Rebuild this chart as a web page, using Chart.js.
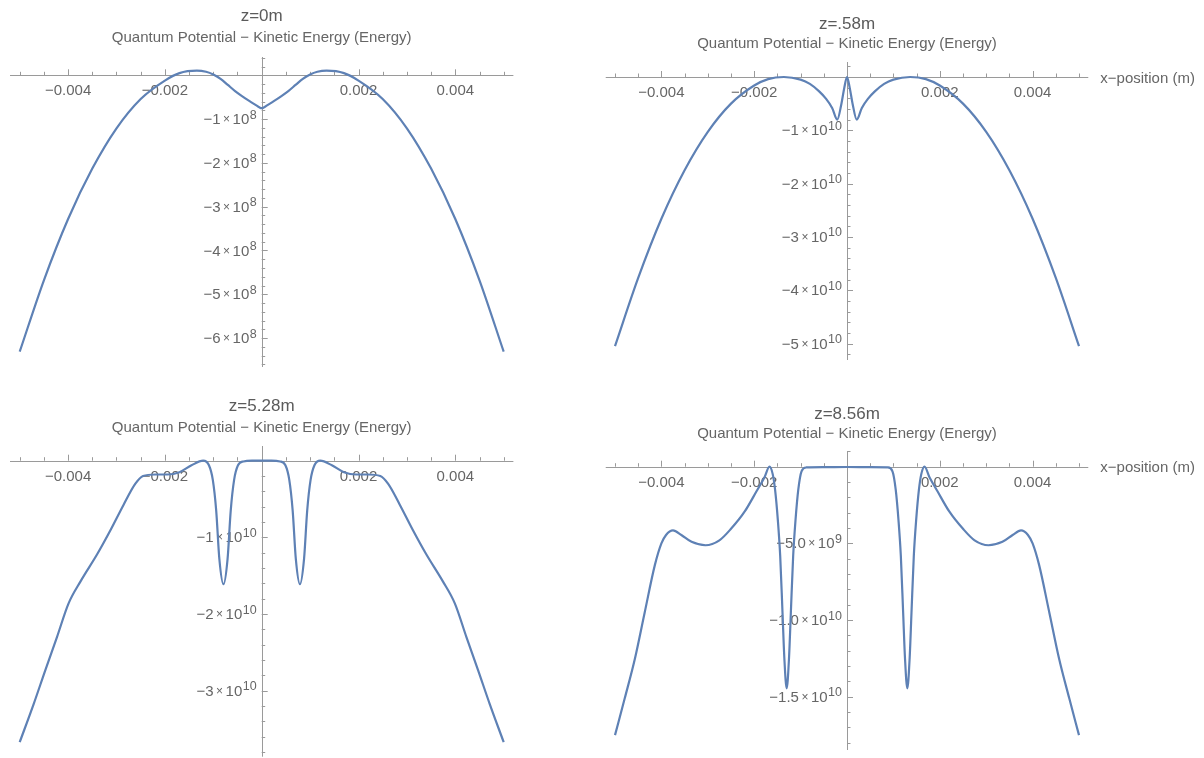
<!DOCTYPE html>
<html>
<head>
<meta charset="utf-8">
<title>Quantum Potential − Kinetic Energy</title>
<script src="https://cdn.jsdelivr.net/npm/chart.js@4.4.1/dist/chart.umd.min.js"></script>
<style>
  html, body { margin: 0; padding: 0; background: #fff; }
  body { position: relative; width: 1204px; height: 758px; overflow: hidden; }
  canvas { position: absolute; }
</style>
</head>
<body>
<canvas id="plot0"></canvas>
<canvas id="plot1"></canvas>
<canvas id="plot2"></canvas>
<canvas id="plot3"></canvas>
<script>
// Q - KE across the beam at four distances z (x in metres)
const z0X = [-0.005, -0.0045, -0.004, -0.0035, -0.003, -0.0025, -0.002, -0.0017, -0.00134, -0.00115, -0.001, -0.00085, -0.0007, -0.00055, -0.0004, -0.00025, -0.00012, -0.00005, 0,
  0.00005, 0.00012, 0.00025, 0.0004, 0.00055, 0.0007, 0.00085, 0.001, 0.00115, 0.00134, 0.0017, 0.002, 0.0025, 0.003, 0.0035, 0.004, 0.0045, 0.005];
const z0E = [-6.31e8, -4.68e8, -3.28e8, -2.13e8, -1.21e8, -0.54e8, -0.12e8, 0.05e8, 0.105e8, 0.08e8, 0.02e8, -0.08e8, -0.22e8, -0.36e8, -0.48e8, -0.59e8, -0.68e8, -0.73e8, -0.75e8,
  -0.73e8, -0.68e8, -0.59e8, -0.48e8, -0.36e8, -0.22e8, -0.08e8, 0.02e8, 0.08e8, 0.105e8, 0.05e8, -0.12e8, -0.54e8, -1.21e8, -2.13e8, -3.28e8, -4.68e8, -6.31e8];

const z058X = [-0.005, -0.0045, -0.004, -0.0035, -0.003, -0.0025, -0.002, -0.0017, -0.00136, -0.001, -0.0008, -0.0006, -0.00045, -0.00032, -0.00021, -0.00012, -0.00006, 0,
  0.00006, 0.00012, 0.00021, 0.00032, 0.00045, 0.0006, 0.0008, 0.001, 0.00136, 0.0017, 0.002, 0.0025, 0.003, 0.0035, 0.004, 0.0045, 0.005];
const z058E = [-5.05e10, -3.77e10, -2.66e10, -1.75e10, -1.03e10, -0.50e10, -0.16e10, -0.04e10, 0, -0.05e10, -0.13e10, -0.27e10, -0.41e10, -0.58e10, -0.80e10, -0.50e10, -0.21e10, 0,
  -0.21e10, -0.50e10, -0.80e10, -0.58e10, -0.41e10, -0.27e10, -0.13e10, -0.05e10, 0, -0.04e10, -0.16e10, -0.50e10, -1.03e10, -1.75e10, -2.66e10, -3.77e10, -5.05e10];

const z528X = [-0.005, -0.00471, -0.00447, -0.00423, -0.00399, -0.00374, -0.0034, -0.00312, -0.00285, -0.00261, -0.00245, -0.0022, -0.00195, -0.0017, -0.00145,
  -0.00121, -0.00109, -0.00101, -0.00094, -0.000875, -0.00079, -0.000705, -0.00064, -0.00057, -0.00049, -0.00038, -0.0002, 0,
  0.0002, 0.00038, 0.00049, 0.00057, 0.00064, 0.000705, 0.00079, 0.000875, 0.00094, 0.00101, 0.00109, 0.00121,
  0.00145, 0.0017, 0.00195, 0.0022, 0.00245, 0.00261, 0.00285, 0.00312, 0.0034, 0.00374, 0.00399, 0.00423, 0.00447, 0.00471, 0.005];
const z528E = [-3.67e10, -3.17e10, -2.73e10, -2.30e10, -1.86e10, -1.57e10, -1.22e10, -0.90e10, -0.57e10, -0.30e10, -0.20e10, -0.18e10, -0.18e10, -0.15e10, -0.06e10,
  0, -0.06e10, -0.25e10, -0.65e10, -1.28e10, -1.61e10, -1.28e10, -0.65e10, -0.25e10, -0.06e10, -0.01e10, 0, 0,
  0, -0.01e10, -0.06e10, -0.25e10, -0.65e10, -1.28e10, -1.61e10, -1.28e10, -0.65e10, -0.25e10, -0.06e10, 0,
  -0.06e10, -0.15e10, -0.18e10, -0.18e10, -0.20e10, -0.30e10, -0.57e10, -0.90e10, -1.22e10, -1.57e10, -1.86e10, -2.30e10, -2.73e10, -3.17e10, -3.67e10];

const z856X = [-0.005, -0.00479, -0.00457, -0.00436, -0.00414, -0.004, -0.0039, -0.00375, -0.00357, -0.00335, -0.00305, -0.00275, -0.0025, -0.0022, -0.00195, -0.00178,
  -0.00167, -0.0016, -0.00155, -0.00149, -0.00144, -0.00139, -0.00135, -0.0013, -0.00125, -0.00121, -0.00116, -0.00111, -0.00105, -0.00098, -0.00088, -0.0005, 0,
  0.0005, 0.00088, 0.00098, 0.00105, 0.00111, 0.00116, 0.00121, 0.00125, 0.0013, 0.00135, 0.00139, 0.00144, 0.00149, 0.00155, 0.0016, 0.00167,
  0.00178, 0.00195, 0.0022, 0.0025, 0.00275, 0.00305, 0.00335, 0.00357, 0.00375, 0.0039, 0.004, 0.00414, 0.00436, 0.00457, 0.00479, 0.005];
const z856E = [-17.5e9, -15.1e9, -12.5e9, -9.5e9, -6.4e9, -5.0e9, -4.45e9, -4.15e9, -4.45e9, -4.9e9, -5.12e9, -4.8e9, -4.05e9, -2.9e9, -1.6e9, -0.7e9,
  0, -0.5e9, -1.5e9, -3.5e9, -5.8e9, -9.5e9, -12.5e9, -14.45e9, -12.5e9, -9.5e9, -5.8e9, -3.5e9, -1.5e9, -0.3e9, -0.05e9, -0.03e9, -0.02e9,
  -0.03e9, -0.05e9, -0.3e9, -1.5e9, -3.5e9, -5.8e9, -9.5e9, -12.5e9, -14.45e9, -12.5e9, -9.5e9, -5.8e9, -3.5e9, -1.5e9, -0.5e9, 0,
  -0.7e9, -1.6e9, -2.9e9, -4.05e9, -4.8e9, -5.12e9, -4.9e9, -4.45e9, -4.15e9, -4.45e9, -5.0e9, -6.4e9, -9.5e9, -12.5e9, -15.1e9, -17.5e9];

// axis ticks and labels
const xTickVals = [-0.004, -0.002, 0.002, 0.004];
const xTickText = ['\u22120.004', '\u22120.002', '0.002', '0.004'];
const yTicks0 = [[-1e8, '\u22121', '8'], [-2e8, '\u22122', '8'], [-3e8, '\u22123', '8'], [-4e8, '\u22124', '8'], [-5e8, '\u22125', '8'], [-6e8, '\u22126', '8']];
const yTicks058 = [[-1e10, '\u22121', '10'], [-2e10, '\u22122', '10'], [-3e10, '\u22123', '10'], [-4e10, '\u22124', '10'], [-5e10, '\u22125', '10']];
const yTicks528 = [[-1e10, '\u22121', '10'], [-2e10, '\u22122', '10'], [-3e10, '\u22123', '10']];
const yTicks856 = [[-5e9, '\u22125.0', '9'], [-1e10, '\u22121.0', '10'], [-1.5e10, '\u22121.5', '10']];

const FAMILY = '"Liberation Sans", Arial, Helvetica, sans-serif';
const LINE_COLOR = '#5e81b5';
const AXIS_COLOR = '#9a9a9a';
const TEXT_COLOR = '#666666';
const TITLE_COLOR = '#5b5b5b';
const SUBTITLE = 'Quantum Potential \u2212 Kinetic Energy (Energy)';

// page layout of each plot: origin pixel, pixels per mm, pixels per y unit
const panels = [
  { id: 'plot0', left: 0, top: 0, w: 590, h: 385, title: 'z=0m', xs: z0X, ys: z0E, yTicks: yTicks0,
    ox: 261.7, oy: 75.3, pxPerMm: 48.4, unit: 1e8, pxPerUnit: 43.8, yTop: 57, yBottom: 367, minor: 0.2e8,
    titleY: 21.2, subY: 41.7, xLabel: false },
  { id: 'plot1', left: 590, top: 0, w: 614, h: 385, title: 'z=.58m', xs: z058X, ys: z058E, yTicks: yTicks058,
    ox: 847, oy: 77, pxPerMm: 46.4, unit: 1e10, pxPerUnit: 53.3, yTop: 62, yBottom: 360, minor: 0.2e10,
    titleY: 28.5, subY: 48.3, xLabel: true },
  { id: 'plot2', left: 0, top: 385, w: 590, h: 373, title: 'z=5.28m', xs: z528X, ys: z528E, yTicks: yTicks528,
    ox: 261.7, oy: 460.7, pxPerMm: 48.4, unit: 1e10, pxPerUnit: 76.7, yTop: 446, yBottom: 756.7, minor: 0.2e10,
    titleY: 411.2, subY: 431.7, xLabel: false },
  { id: 'plot3', left: 590, top: 385, w: 614, h: 373, title: 'z=8.56m', xs: z856X, ys: z856E, yTicks: yTicks856,
    ox: 847, oy: 466.7, pxPerMm: 46.4, unit: 1e9, pxPerUnit: 15.34, yTop: 451, yBottom: 750, minor: 1e9,
    titleY: 418.5, subY: 438.3, xLabel: true }
];

const X_SPAN = 0.0052;

function hLine(ctx, x1, x2, y) {
  const yy = Math.round(y) + 0.5;
  ctx.beginPath(); ctx.moveTo(x1, yy); ctx.lineTo(x2, yy); ctx.stroke();
}
function vLine(ctx, x, y1, y2) {
  const xx = Math.round(x) + 0.5;
  ctx.beginPath(); ctx.moveTo(xx, y1); ctx.lineTo(xx, y2); ctx.stroke();
}

// "−1×10^8" style label, right aligned, tick at yTick
function powerLabel(ctx, mant, exp, right, yTick) {
  const base = '15px ' + FAMILY, times = '12px ' + FAMILY, sup = '12.5px ' + FAMILY;
  ctx.font = base;
  const wm = ctx.measureText(mant).width, w10 = ctx.measureText('10').width;
  ctx.font = times;
  const wx = ctx.measureText('\u00d7').width;
  ctx.font = sup;
  const we = ctx.measureText(exp).width;
  const gap = 2.5;
  let x = right - (wm + gap + wx + gap + w10 + 0.5 + we);
  ctx.textAlign = 'left';
  ctx.textBaseline = 'alphabetic';
  ctx.font = base; ctx.fillText(mant, x, yTick + 5); x += wm + gap;
  ctx.font = times; ctx.fillText('\u00d7', x, yTick + 4); x += wx + gap;
  ctx.font = base; ctx.fillText('10', x, yTick + 5); x += w10 + 0.5;
  ctx.font = sup; ctx.fillText(exp, x, yTick - 0.5);
}

function axesFor(p) {
  return {
    id: 'mathAxes',
    beforeDatasetsDraw(chart) {
      const { ctx, scales: { x, y } } = chart;
      const ox = x.getPixelForValue(0), oy = y.getPixelForValue(0);
      ctx.save();
      ctx.strokeStyle = AXIS_COLOR;
      ctx.lineWidth = 1;
      hLine(ctx, x.left, x.right, oy);
      vLine(ctx, ox, y.top, y.bottom);

      // x ticks every 0.5 mm, longer at the labelled ones
      for (let k = -10; k <= 10; k++) {
        if (k === 0) continue;
        const px = Math.round(x.getPixelForValue(k * 0.0005)) + 0.5;
        const len = (k % 4 === 0) ? 6 : 3.5;
        ctx.beginPath(); ctx.moveTo(px, oy); ctx.lineTo(px, oy - len); ctx.stroke();
      }
      // y ticks: minor steps, longer at labelled values
      const majors = p.yTicks.map(t => t[0]);
      const yMax = y.max, yMin = y.min;
      for (let k = Math.floor(yMax / p.minor); k * p.minor >= yMin; k--) {
        if (k === 0) continue;
        const v = k * p.minor;
        const isMajor = majors.some(m => Math.abs(m - v) < p.minor * 0.01);
        const py = Math.round(y.getPixelForValue(v)) + 0.5;
        ctx.beginPath(); ctx.moveTo(ox, py); ctx.lineTo(ox + (isMajor ? 6 : 3.5), py); ctx.stroke();
      }

      ctx.fillStyle = TEXT_COLOR;
      ctx.font = '15px ' + FAMILY;
      ctx.textAlign = 'center';
      ctx.textBaseline = 'alphabetic';
      xTickVals.forEach((v, i) => ctx.fillText(xTickText[i], x.getPixelForValue(v), oy + 20));
      p.yTicks.forEach(t => powerLabel(ctx, t[1], t[2], ox - 5, y.getPixelForValue(t[0])));

      if (p.xLabel) {
        ctx.font = '15px ' + FAMILY;
        ctx.textAlign = 'left';
        ctx.fillText('x\u2212position (m)', x.right + 12, oy + 5.5);
      }

      // titles
      const cx = p.ox - p.left;
      ctx.textAlign = 'center';
      ctx.fillStyle = TITLE_COLOR;
      ctx.font = '17px ' + FAMILY;
      ctx.fillText(p.title, cx, p.titleY - p.top);
      ctx.fillStyle = TEXT_COLOR;
      ctx.font = '15px ' + FAMILY;
      ctx.fillText(SUBTITLE, cx, p.subY - p.top);
      ctx.restore();
    }
  };
}

panels.forEach(p => {
  const canvas = document.getElementById(p.id);
  canvas.width = p.w;
  canvas.height = p.h;
  canvas.style.left = p.left + 'px';
  canvas.style.top = p.top + 'px';

  const areaLeft = p.ox - X_SPAN * 1000 * p.pxPerMm;
  const areaRight = p.ox + X_SPAN * 1000 * p.pxPerMm;
  const yMax = (p.oy - p.yTop) / p.pxPerUnit * p.unit;
  const yMin = -(p.yBottom - p.oy) / p.pxPerUnit * p.unit;

  new Chart(canvas, {
    type: 'line',
    data: {
      datasets: [{
        data: p.xs.map((v, i) => ({ x: v, y: p.ys[i] })),
        borderColor: LINE_COLOR,
        borderWidth: 2.2,
        pointRadius: 0,
        cubicInterpolationMode: 'monotone',
        fill: false
      }]
    },
    options: {
      responsive: false,
      animation: false,
      events: [],
      layout: {
        padding: {
          left: areaLeft - p.left,
          right: p.left + p.w - areaRight,
          top: p.yTop - p.top,
          bottom: p.top + p.h - p.yBottom
        }
      },
      scales: {
        x: { type: 'linear', min: -X_SPAN, max: X_SPAN, display: false },
        y: { type: 'linear', min: yMin, max: yMax, display: false }
      },
      plugins: { legend: { display: false }, tooltip: { enabled: false } }
    },
    plugins: [axesFor(p)]
  });
});
</script>
</body>
</html>
